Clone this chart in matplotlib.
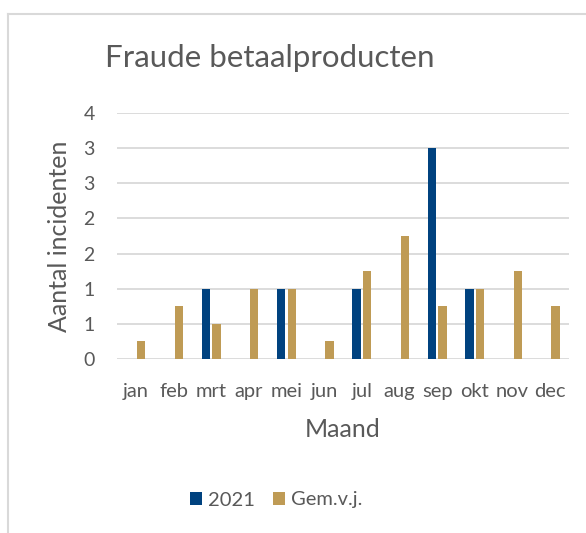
import matplotlib
matplotlib.use("Agg")
import matplotlib.pyplot as plt
import numpy as np
from matplotlib.lines import Line2D

months = ["jan", "feb", "mrt", "apr", "mei", "jun", "jul", "aug", "sep", "okt", "nov", "dec"]
s2021 = [0, 0, 1, 0, 1, 0, 1, 0, 3, 1, 0, 0]
gem_vj = [0.25, 0.75, 0.5, 1, 1, 0.25, 1.25, 1.75, 0.75, 1, 1.25, 0.75]
ytick_vals = [0, 0.5, 1, 1.5, 2, 2.5, 3, 3.5]
ytick_labels = ["0", "1", "1", "2", "2", "3", "3", "4"]

plt.rcParams['font.family'] = ['Lato', 'DejaVu Sans']
txt = "#595959"
blue = "#00427F"
gold = "#BF9B55"

fig = plt.figure(figsize=(5.86, 5.33), dpi=100)
ax = fig.add_axes([117/586, 1-359/533, (569-117)/586, (359-113)/533])

x = np.arange(len(months))
w = 0.22
off = 0.14
ax.bar(x - off, s2021, width=w, color=blue, label="2021", zorder=3)
ax.bar(x + off, gem_vj, width=w, color=gold, label="Gem.v.j.", zorder=3)

ax.set_xlim(-0.5, 11.5)
ax.set_ylim(0, 3.5)
ax.set_yticks(ytick_vals)
ax.set_yticklabels(ytick_labels)
ax.set_xticks(x)
ax.set_xticklabels(months)
ax.tick_params(axis='x', length=0, labelsize=14.5, colors=txt, pad=17)
ax.tick_params(axis='y', length=0, labelsize=14, colors=txt, pad=16)
ax.grid(axis='y', color="#d9d9d9", linewidth=1.3, zorder=0)
for s in ax.spines.values():
    s.set_visible(False)
ax.set_ylabel("Aantal incidenten", fontsize=18, color=txt, labelpad=9)
ax.set_xlabel("Maand", fontsize=18, color=txt, labelpad=13)

fig.text(270/586, 1-58/533, "Fraude betaalproducten", ha='center', va='center',
         fontsize=22.5, color=txt)

leg = fig.legend(loc='center', bbox_to_anchor=(276/586, 1-500/533), ncol=2, frameon=False,
                 fontsize=14.5, handlelength=0.6, handleheight=0.6, handletextpad=0.3,
                 columnspacing=0.9, labelcolor=txt)

# chart border (cropped)
fig.add_artist(Line2D([8/586, 8/586], [0, 1-14/533], color="#d9d9d9", lw=1.5, transform=fig.transFigure))
fig.add_artist(Line2D([8/586, 1], [1-14/533, 1-14/533], color="#d9d9d9", lw=1.5, transform=fig.transFigure))

fig.savefig("out.png", dpi=100)
